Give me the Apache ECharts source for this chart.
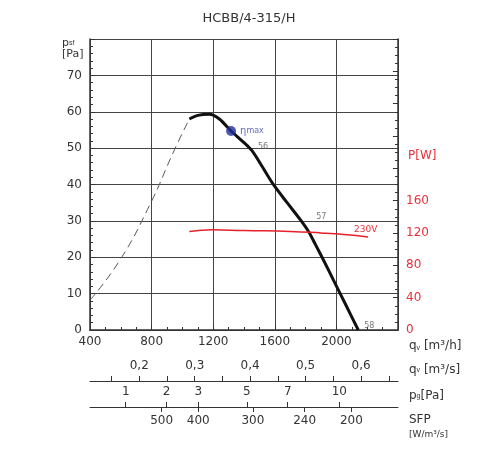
<!DOCTYPE html>
<html><head><meta charset="utf-8">
<script src="https://cdn.jsdelivr.net/npm/echarts@6/dist/echarts.min.js"></script>
<style>html,body{margin:0;background:#fff}#c{width:500px;height:450px}</style></head>
<body><div id="c"></div>
<script>
const curveSolid = [[1045,58.0],[1100,59.0],[1174,59.3],[1240,58.0],[1316,54.7],[1400,51.5],[1452,49.3],[1520,44.8],[1594,39.8],[1680,35.0],[1768,30.2],[1820,27.0],[1865,23.4],[1920,18.9],[1981,13.7],[2060,7],[2142,0]];
const curveDashed = [[400,8.2],[594,19.2],[787,34.3],[948,49.5],[1045,58.0]];
const power = [[1045,122],[1200,124],[1400,123],[1700,122],[1900,120],[2050,118],[2206,115]];
const etaMax = [[1316,54.7]];
const pointLabels = [[1452,50.3,'56'],[1830,31,'57'],[2142,1,'58']];
const qsTicks = [0.2,0.3,0.4,0.5,0.6];
const pgTicks = [[632,'1'],[897,'2'],[1103,'3'],[1419,'5'],[1684,'7'],[2019,'10']];
const sfpTicks = [[865,'500'],[1103,'400'],[1458,'300'],[1794,'240'],[2097,'200']];
const font = 'DejaVu Sans';
const g = '#333';
const chart = echarts.init(document.getElementById('c'));
const baseX = {type:'value',min:400,max:2400,position:'bottom',splitLine:{show:false},axisLine:{show:true,lineStyle:{color:g}},axisTick:{show:false},axisLabel:{show:false}};
chart.setOption({
  animation:false,
  textStyle:{fontFamily:font},
  title:{text:'HCBB/4-315/H',left:244,top:7,textAlign:'center',textStyle:{fontSize:13,fontWeight:'normal',color:'#333',fontFamily:font}},
  grid:{left:90,right:102,top:39,bottom:120},
  xAxis:[
    {type:'value',min:400,max:2400,interval:400,position:'bottom',
     axisLine:{lineStyle:{color:g,width:1.5}},axisTick:{inside:true,length:5,lineStyle:{color:g}},
     minorTick:{show:true,splitNumber:4,length:3,lineStyle:{color:g}},
     splitLine:{show:true,lineStyle:{color:'#444'}},
     axisLabel:{color:g,fontSize:12,margin:6,showMaxLabel:false,formatter:v=>String(v)}},
    Object.assign({},baseX,{offset:27,axisLabel:{show:true,color:'rgba(0,0,0,0)',formatter:()=>' '}}),
    Object.assign({},baseX,{offset:51,axisTick:{show:true,inside:true,length:5,customValues:qsTicks.map(v=>v*3600).concat([540,900,1260,1620,1980,2340]),lineStyle:{color:g}},
      axisLabel:{show:true,inside:true,margin:9,color:g,fontSize:12,customValues:qsTicks.map(v=>v*3600),formatter:v=>(v/3600).toFixed(1).replace('.',',')}}),
    Object.assign({},baseX,{offset:77,axisTick:{show:true,inside:true,length:5,customValues:pgTicks.map(p=>p[0]),lineStyle:{color:g}},
      axisLabel:{show:true,inside:true,margin:9,color:g,fontSize:12,customValues:pgTicks.map(p=>p[0]),formatter:v=>(pgTicks.find(p=>p[0]===v)||[0,''])[1]}}),
    Object.assign({},baseX,{offset:77,axisLine:{show:false},axisTick:{show:true,length:5,customValues:sfpTicks.map(p=>p[0]),lineStyle:{color:g}},
      axisLabel:{show:true,margin:8,color:g,fontSize:12,customValues:sfpTicks.map(p=>p[0]),formatter:v=>(sfpTicks.find(p=>p[0]===v)||[0,''])[1]}})
  ],
  yAxis:[
    {type:'value',min:0,max:80,interval:10,axisLine:{show:true,lineStyle:{color:g,width:1.5}},
     axisTick:{inside:true,length:5,lineStyle:{color:g}},minorTick:{show:true,splitNumber:5,length:3,lineStyle:{color:g}},
     splitLine:{lineStyle:{color:'#444'}},axisLabel:{color:g,fontSize:12,margin:8,formatter:v=>v>70?'':v}},
    {type:'value',min:0,max:360,interval:40,position:'right',axisLine:{show:true,lineStyle:{color:g,width:1.5}},
     axisTick:{inside:true,length:5,lineStyle:{color:g}},minorTick:{show:true,splitNumber:4,length:3,lineStyle:{color:g}},
     splitLine:{show:false},axisLabel:{color:'#e8303a',fontSize:12,margin:8,formatter:v=>v>160?'':v}}
  ],
  series:[
    {type:'line',data:curveDashed,smooth:true,symbol:'none',lineStyle:{color:'#555',width:1,type:[8,5]}},
    {type:'line',data:curveSolid,smooth:0.3,symbol:'none',lineStyle:{color:'#111',width:3}},
    {type:'line',yAxisIndex:1,data:power,smooth:true,symbol:'none',lineStyle:{color:'#e8202a',width:1.5},
     endLabel:{show:true,formatter:'230V',color:'#e8303a',fontSize:9,offset:[-22,-7]}},
    {type:'scatter',data:etaMax,symbolSize:10,itemStyle:{color:'#22309a'},z:5,
     label:{show:true,position:'right',distance:4,color:'#3a4aa8',fontSize:10,formatter:'η{s|max}',rich:{s:{fontSize:8,color:'#3a4aa8'}}}},
    {type:'scatter',data:pointLabels,symbolSize:0,label:{show:true,position:'right',distance:6,color:'#555',fontSize:8,formatter:p=>p.data[2]}}
  ],
  graphic:[
    {type:'text',left:62,top:38,style:{text:'p{s|sf}\n[Pa]',fill:g,font:'11px DejaVu Sans',rich:{s:{fontSize:7}}}},
    {type:'text',left:408,top:150,style:{text:'P[W]',fill:'#e8303a',font:'12px DejaVu Sans'}},
    {type:'text',left:409,top:340,style:{text:'q{s|v} [m³/h]',fill:g,font:'12px DejaVu Sans',rich:{s:{fontSize:7,verticalAlign:'bottom'}}}},
    {type:'text',left:409,top:364,style:{text:'q{s|v} [m³/s]',fill:g,font:'12px DejaVu Sans',rich:{s:{fontSize:7}}}},
    {type:'text',left:409,top:390,style:{text:'p{s|g}[Pa]',fill:g,font:'12px DejaVu Sans',rich:{s:{fontSize:7}}}},
    {type:'text',left:409,top:414,style:{text:'SFP',fill:g,font:'12px DejaVu Sans'}},
    {type:'text',left:409,top:430,style:{text:'[W/m³/s]',fill:g,font:'9px DejaVu Sans'}}
  ]
});
</script></body></html>
